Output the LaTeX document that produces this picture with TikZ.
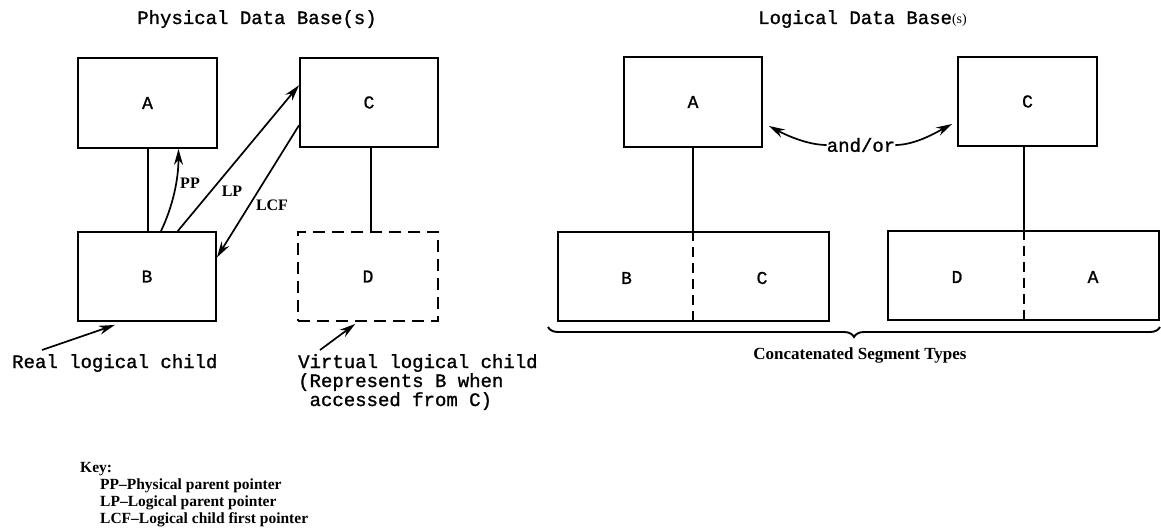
\documentclass[tikz,border=0pt]{standalone}
\usepackage{fontspec}
\setmainfont{Liberation Serif}
\setmonofont[FakeBold=1.2]{Liberation Mono}
\usetikzlibrary{arrows.meta,calc,decorations.pathreplacing}
\begin{document}
\begin{tikzpicture}[x=1pt,y=-1pt,
  seg/.style={draw,line width=1.9pt,inner sep=0pt,font=\fontsize{18}{18}\selectfont\ttfamily},
  vseg/.style={seg,dash pattern=on 12pt off 7pt},
  letter/.style={inner sep=0pt,font=\fontsize{18}{18}\selectfont\ttfamily},
  link/.style={line width=1.9pt},
  divider/.style={line width=1.9pt,dash pattern=on 10pt off 6pt},
  ptr/.style={line width=1.7pt,-{Stealth[length=16pt,width=9pt]}},
  lbl/.style={inner sep=0pt,font=\fontsize{16}{16}\selectfont\bfseries},
  mono/.style={inner sep=0pt,font=\fontsize{19}{19}\selectfont\ttfamily},
  keyline/.style={inner sep=0pt,anchor=base west,font=\fontsize{15.5}{15.5}\selectfont\bfseries}]
\useasboundingbox (0,0) rectangle (1161,527);

% ---------- Physical data base ----------
\node[mono,anchor=base] (tphys) at (257,24) {Physical Data Base(s)};
\node[seg,minimum width=139pt,minimum height=90pt] (pA) at (147.5,103) {A};
\node[seg,minimum width=138pt,minimum height=89pt] (pC) at (369,102.5) {C};
\node[seg,minimum width=138pt,minimum height=89pt] (pB) at (147,276.5) {B};
\node[vseg,minimum width=140pt,minimum height=89pt] (pD) at (368,276.5) {D};

\draw[link] ($(pA.south)+(0.5,0)$) -- ($(pA.south |- pB.north)+(0.5,0)$);
\draw[link] ($(pC.south)+(2,0)$) -- ($(pC.south |- pD.north)+(2,0)$);

\draw[ptr] ($(pB.north west)!0.6!(pB.north east)$) .. controls +(12,-25) and +(0,30) .. ($(pA.south west)!0.72!(pA.south east)$);
\draw[ptr] ($(pB.north west)!0.72!(pB.north east)$) -- ($(pC.north west)!0.31!(pC.south west)$);
\draw[ptr] ($(pC.north west)!0.75!(pC.south west)$) -- ($(pB.north east)!0.29!(pB.south east)$);

\node[lbl] (lpp) at (190,183) {PP};
\node[lbl] (llp) at (232,191) {LP};
\node[lbl] (llcf) at (272,205) {LCF};

\node[mono,anchor=base west] (rlc) at (12,368) {Real logical child};
\coordinate (rlctail) at (42,350);
\draw[ptr] (rlctail) -- ($(pB.south west)!0.27!(pB.south east)+(0,3)$);

\node[mono,anchor=base west] (vlc1) at (298,368) {Virtual logical child};
\node[mono,anchor=base west] (vlc2) at (298,387) {(Represents B when};
\node[mono,anchor=base west] (vlc3) at (298,406) {\phantom{(}accessed from C)};
\coordinate (vlctail) at (320,350);
\draw[ptr] (vlctail) -- ($(pD.south west)!0.41!(pD.south east)+(0,2)$);

% ---------- Logical data base ----------
\node[mono,anchor=base west] (tlog) at (758,24) {Logical Data Base{\fontsize{14}{14}\selectfont\rmfamily(s)}};
\node[seg,minimum width=138pt,minimum height=90pt] (lA) at (693,102) {A};
\node[seg,minimum width=139pt,minimum height=89pt] (lC) at (1027.5,101.5) {C};
\node[seg,minimum width=271pt,minimum height=89pt] (lBC) at (693.5,276.5) {};
\node[seg,minimum width=271pt,minimum height=89pt] (lDA) at (1023.5,275.5) {};
\node[letter] (lBCb) at (626.5,278) {B};
\node[letter] (lBCc) at (762,278) {C};
\node[letter] (lDAd) at (957,277) {D};
\node[letter] (lDAa) at (1093,277) {A};

\draw[link] (lA.south) -- (lA.south |- lBC.north);
\draw[divider] (lA.south |- lBC.north) -- (lA.south |- lBC.south);
\draw[link] ($(lC.south)+(-3.5,0)$) -- ($(lC.south |- lDA.north)+(-3.5,0)$);
\draw[divider] ($(lC.south |- lDA.north)+(-3.5,0)$) -- ($(lC.south |- lDA.south)+(-3.5,0)$);

\node[mono] (andor) at (861,145) {and/or};
\draw[ptr] (andor.west) .. controls +(-20,0) and +(15,8) .. ($(lA.east)+(6,24)$);
\draw[ptr] (andor.east) .. controls +(20,0) and +(-15,8) .. ($(lC.west)+(-5,22.5)$);

\coordinate (brL) at (548,327);
\coordinate (brR) at (1160,327);
\draw[link,decorate,decoration={brace,mirror,amplitude=10pt}] (brL) -- (brR);
\node[inner sep=0pt,anchor=base,font=\fontsize{17}{17}\selectfont\bfseries] (concat) at (860,359) {Concatenated Segment Types};

% ---------- Key ----------
\node[keyline] (key) at (80,472) {Key:};
\node[keyline] (key1) at (100,489.5) {PP--Physical parent pointer};
\node[keyline] (key2) at (100,506.5) {LP--Logical parent pointer};
\node[keyline] (key3) at (100,523) {LCF--Logical child first pointer};
\end{tikzpicture}
\end{document}
